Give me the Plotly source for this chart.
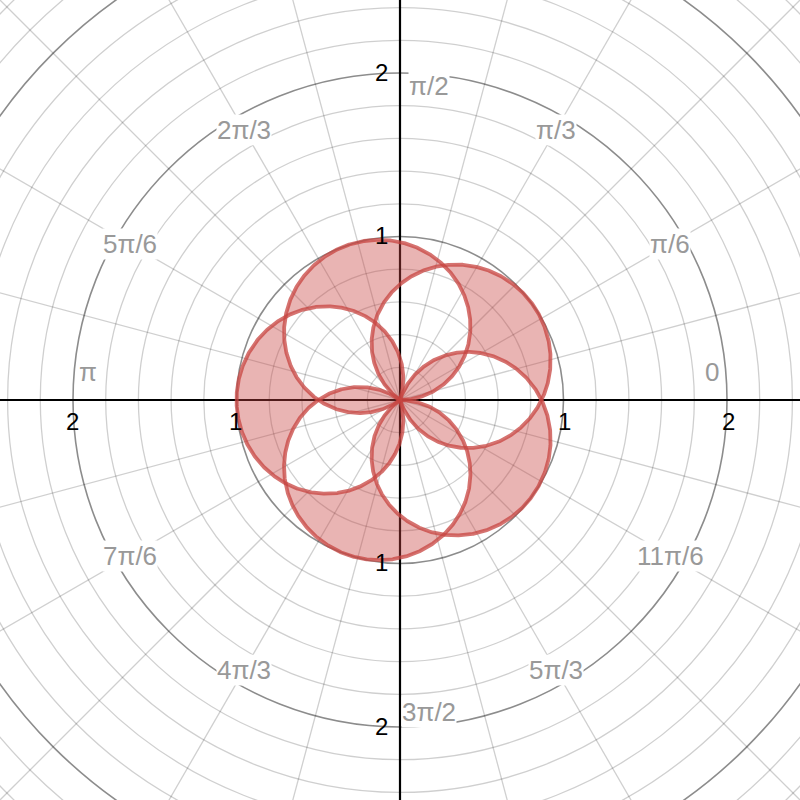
import numpy as np
import plotly.graph_objects as go

# ---- curve definition (polar rose petals) ----
K = 5 / 6                                  # angular frequency of each petal r = cos(K*phi)
PETAL_TIPS_DEG = [36, 108, 180, 252, 324]  # directions where petals reach r = 1
HALF_SPAN_DEG = 90 / K                     # petal half-width (r reaches 0)

# ---- grid / labels ----
ANGLE_LABELS = ["0", "π/6", "π/3", "π/2", "2π/3", "5π/6", "π",
                "7π/6", "4π/3", "3π/2", "5π/3", "11π/6"]
ANGLE_LABEL_DEG = [0, 30, 60, 90, 120, 150, 180, 210, 240, 270, 300, 330]
AXIS_TICKS = [-2, -1, 1, 2]
MAJOR_RADII = [1, 2, 3]
MINOR_STEP = 0.2
RADIAL_STEP_DEG = 15

RED = "199,68,64"
SCALE = 163.5  # px per unit
HALF = 400 / SCALE
FONT = "Liberation Sans, Arial, sans-serif"

fig = go.Figure()

# petal radii as function of direction
th = np.radians(np.linspace(0, 360, 7201))
R = []
for tip in PETAL_TIPS_DEG:
    phi = (np.degrees(th) - tip + 180) % 360 - 180
    r = np.where(np.abs(phi) <= HALF_SPAN_DEG, np.cos(K * np.radians(phi)), 0.0)
    R.append(np.clip(r, 0, None))
R = np.sort(np.array(R), axis=0)[::-1]
f1, f2, f3 = R[0], R[1], R[2]

# outer band (odd coverage: between 2nd and 1st)
xb = np.concatenate([f1 * np.cos(th), (f2 * np.cos(th))[::-1]])
yb = np.concatenate([f1 * np.sin(th), (f2 * np.sin(th))[::-1]])
fig.add_trace(go.Scatter(x=xb, y=yb, mode="lines", fill="toself",
                         fillcolor=f"rgba({RED},0.4)", line=dict(width=0),
                         hoverinfo="skip", showlegend=False))
# inner lenses (coverage 3)
fig.add_trace(go.Scatter(x=f3 * np.cos(th), y=f3 * np.sin(th), mode="lines", fill="toself",
                         fillcolor=f"rgba({RED},0.4)", line=dict(width=0),
                         hoverinfo="skip", showlegend=False))

# petal outlines
for tip in PETAL_TIPS_DEG:
    phi = np.radians(np.linspace(-HALF_SPAN_DEG, HALF_SPAN_DEG, 1201))
    r = np.cos(K * phi)
    ang = np.radians(tip) + phi
    fig.add_trace(go.Scatter(x=r * np.cos(ang), y=r * np.sin(ang), mode="lines",
                             line=dict(color=f"rgba({RED},0.75)", width=3.8),
                             hoverinfo="skip", showlegend=False))

shapes = []
# minor circles
n_minor = int(3.6 / MINOR_STEP)
for i in range(1, n_minor + 1):
    rr = round(i * MINOR_STEP, 6)
    if any(abs(rr - m) < 1e-6 for m in MAJOR_RADII):
        continue
    shapes.append(dict(type="circle", xref="x", yref="y", x0=-rr, y0=-rr, x1=rr, y1=rr,
                       line=dict(color="rgba(0,0,0,0.19)", width=1.3), layer="below"))
# radial lines
for a in range(0, 360, RADIAL_STEP_DEG):
    if a % 90 == 0:
        continue
    ar = np.radians(a)
    shapes.append(dict(type="line", xref="x", yref="y", x0=0, y0=0,
                       x1=4 * np.cos(ar), y1=4 * np.sin(ar),
                       line=dict(color="rgba(0,0,0,0.19)", width=1.3), layer="below"))
# major circles
for rr in MAJOR_RADII:
    shapes.append(dict(type="circle", xref="x", yref="y", x0=-rr, y0=-rr, x1=rr, y1=rr,
                       line=dict(color="rgba(0,0,0,0.45)", width=1.6), layer="below"))
# axes
shapes.append(dict(type="line", xref="x", yref="y", x0=-HALF, y0=0, x1=HALF, y1=0,
                   line=dict(color="black", width=2.2), layer="below"))
shapes.append(dict(type="line", xref="x", yref="y", x0=0, y0=-HALF, x1=0, y1=HALF,
                   line=dict(color="black", width=2.2), layer="below"))

annotations = []
LAB_R = 1.91
for lab, deg in zip(ANGLE_LABELS, ANGLE_LABEL_DEG):
    a = np.radians(deg)
    x, y = LAB_R * np.cos(a), LAB_R * np.sin(a)
    xs, ys = 0, 0
    if deg in (0, 180):
        y = 0
        ys = 28
    if deg in (90, 270):
        x = 0
        xs = 29
        y = 1.92 if deg == 90 else -1.91
    annotations.append(dict(x=x, y=y, xref="x", yref="y", text=lab, showarrow=False,
                            xshift=xs, yshift=ys, bgcolor="white", borderpad=0,
                            font=dict(family=FONT, size=26, color="#999999")))
for t in AXIS_TICKS:
    annotations.append(dict(x=t, y=0, xref="x", yref="y", text=str(abs(t)), showarrow=False,
                            yshift=-21, xshift=1 if t > 0 else -1,
                            font=dict(family=FONT, size=24, color="black")))
    annotations.append(dict(x=0, y=t, xref="x", yref="y", text=str(abs(t)), showarrow=False,
                            xshift=-19, yshift=1,
                            font=dict(family=FONT, size=24, color="black")))

fig.update_layout(
    width=800, height=800, margin=dict(l=0, r=0, t=0, b=0),
    plot_bgcolor="white", paper_bgcolor="white",
    xaxis=dict(range=[-HALF, HALF], visible=False, showgrid=False, zeroline=False),
    yaxis=dict(range=[-HALF, HALF], visible=False, showgrid=False, zeroline=False,
               scaleanchor="x", scaleratio=1),
    shapes=shapes, annotations=annotations, showlegend=False,
)
fig.write_html("out.html", config={"displayModeBar": False},
               post_script="document.body.style.margin='0';document.body.style.overflow='hidden';")
